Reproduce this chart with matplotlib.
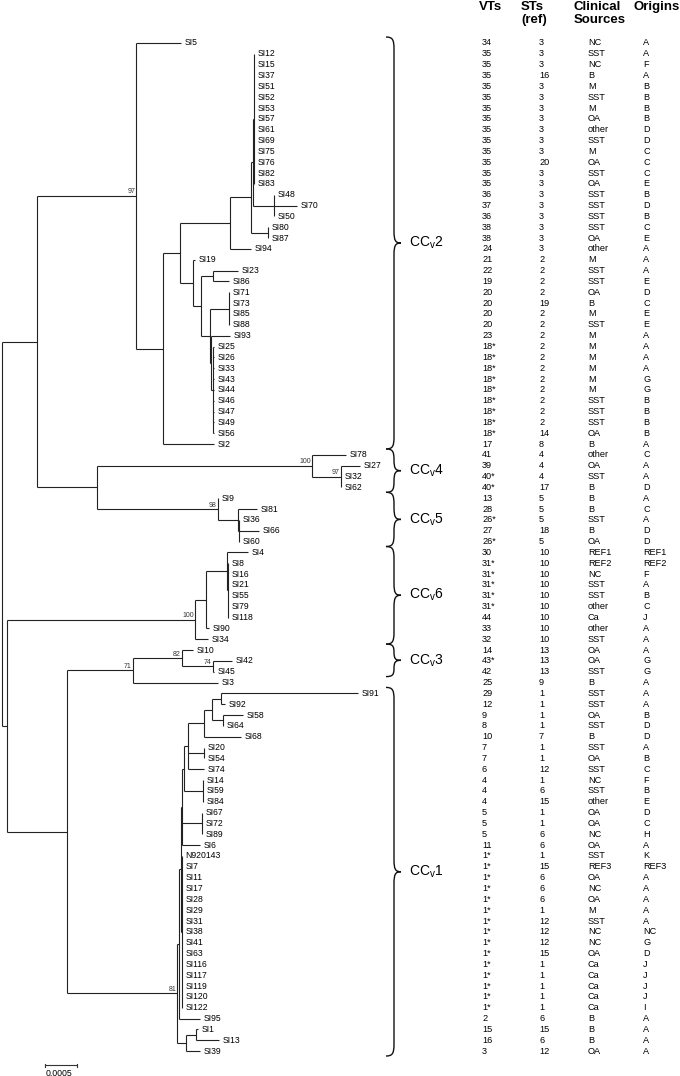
import matplotlib.pyplot as plt
from matplotlib.collections import LineCollection
from matplotlib.path import Path
from matplotlib.patches import PathPatch
from matplotlib.transforms import blended_transform_factory

plt.rcParams['font.family'] = ['Liberation Sans', 'DejaVu Sans']

# tree in newick, branch lengths in 1e-4 substitutions/site, internal labels = bootstrap
TREE = """
(
 (
  (SI5:6.9,
   (
    (
     (
      (
       ((SI12:0,SI15:0,SI37:0,SI51:0,SI52:0,SI53:0,SI57:0,SI61:0,SI69:0,SI75:0,SI76:0,SI82:0,SI83:0):0.2,
        (SI48:0,SI70:3.6,SI50:0):3.3):0.3,
       (SI80:0,SI87:0):2.7
      ):3.3,
      SI94:3.3
     ):7.8,
     (SI19:0.3,
      (
       (SI23:3.9,SI86:2.5):1.9,
       (
        (SI71:0,SI73:0,SI85:0,SI88:0):3.0,
        (SI93:3.0,(SI25:0.2,SI26:0.2,SI33:0.2,SI43:0.2,SI44:0.2,SI46:0.2,SI47:0.2,SI49:0.2,SI56:0.2):0.3):0.2
       ):1.4
      ):1.3
     ):2.0
    ):2.7,
    SI2:8.0
   ):4.1
  )97:15.5,
  (
   (SI78:5.2,(SI27:3.1,SI32:0,SI62:0)97:4.4)100:33.6,
   (SI9:0,(SI81:3.1,(SI36:0,SI66:3.0,SI60:0):0.3):3.1)98:18.8
  ):9.4
 ):5.5,
 (
  (
   ((SI4:3.3,(SI8:0,SI16:0,SI21:0,SI55:0,SI79:0,SI118:0):0.2):3.3,SI90:0.6):1.6,
   SI34:2.0
  )100:29.4,
  (
   ((SI10:1.7,(SI42:3.1,SI45:0.2)74:4.8)82:7.7,SI3:13.3)71:10.2,
   (
    (
     (
      (
       (
        (
         (
          ((SI91:21.4,SI92:0.6):1.4,(SI58:3.1,SI64:0):1.7):1.3,
          SI68:5.8
         ):2.5,
         (SI20:0,SI54:0):2.5,
         SI74:2.5
        ):0.6,
        (SI14:0,SI59:0,SI84:0):3.0
       ):0.2,
       (SI67:0,SI72:0,SI89:0):3.1,
       SI6:2.8
      ):0.3,
      (N920143:0,SI7:0,SI11:0,SI17:0,SI28:0,SI29:0,SI31:0,SI38:0,SI41:0,SI63:0,SI116:0,SI117:0,SI119:0,SI120:0,SI122:0):0.2
     ):0.2,
     SI95:3.3
    ):0.3,
    ((SI1:0.3,SI13:3.6):1.6,SI39:2.2):1.3
   )81:17.2
  ):9.4
 ):0.8
);
"""

vts = ["34", "35", "35", "35", "35", "35", "35", "35", "35", "35", "35", "35", "35", "35",
       "36", "37", "36", "38", "38", "24", "21", "22", "19", "20", "20", "20", "20", "23",
       "18*", "18*", "18*", "18*", "18*", "18*", "18*", "18*", "18*", "17",
       "41", "39", "40*", "40*", "13", "28", "26*", "27", "26*",
       "30", "31*", "31*", "31*", "31*", "31*", "44", "33", "32",
       "14", "43*", "42", "25",
       "29", "12", "9", "8", "10", "7", "7", "6", "4", "4", "4", "5", "5", "5", "11",
       "1*", "1*", "1*", "1*", "1*", "1*", "1*", "1*", "1*", "1*", "1*", "1*", "1*", "1*", "1*",
       "2", "15", "16", "3"]
sts = ["3", "3", "3", "16", "3", "3", "3", "3", "3", "3", "3", "20", "3", "3",
       "3", "3", "3", "3", "3", "3", "2", "2", "2", "2", "19", "2", "2", "2",
       "2", "2", "2", "2", "2", "2", "2", "2", "14", "8",
       "4", "4", "4", "17", "5", "5", "5", "18", "5",
       "10", "10", "10", "10", "10", "10", "10", "10", "10",
       "13", "13", "13", "9",
       "1", "1", "1", "1", "7", "1", "1", "12", "1", "6", "15", "1", "1", "6", "6",
       "1", "15", "6", "6", "6", "1", "12", "12", "12", "15", "1", "1", "1", "1", "1",
       "6", "15", "6", "12"]
sources = ["NC", "SST", "NC", "B", "M", "SST", "M", "OA", "other", "SST", "M", "OA", "SST", "OA",
           "SST", "SST", "SST", "SST", "OA", "other", "M", "SST", "SST", "OA", "B", "M", "SST", "M",
           "M", "M", "M", "M", "M", "SST", "SST", "SST", "OA", "B",
           "other", "OA", "SST", "B", "B", "B", "SST", "B", "OA",
           "REF1", "REF2", "NC", "SST", "SST", "other", "Ca", "other", "SST",
           "OA", "OA", "SST", "B",
           "SST", "SST", "OA", "SST", "B", "SST", "OA", "SST", "NC", "SST", "other", "OA", "OA", "NC", "OA",
           "SST", "REF3", "OA", "NC", "OA", "M", "SST", "NC", "NC", "OA", "Ca", "Ca", "Ca", "Ca", "Ca",
           "B", "B", "B", "OA"]
origins = ["A", "A", "F", "A", "B", "B", "B", "B", "D", "D", "C", "C", "C", "E",
           "B", "D", "B", "C", "E", "A", "A", "A", "E", "D", "C", "E", "E", "A",
           "A", "A", "A", "G", "G", "B", "B", "B", "B", "A",
           "C", "A", "A", "D", "A", "C", "A", "D", "D",
           "REF1", "REF2", "F", "A", "B", "C", "J", "A", "A",
           "A", "G", "G", "A",
           "A", "A", "B", "D", "D", "A", "B", "C", "F", "B", "E", "D", "C", "H", "A",
           "K", "REF3", "A", "A", "A", "A", "A", "NC", "G", "D", "J", "J", "J", "J", "I",
           "A", "A", "A", "A"]

clusters = ["2", "4", "5", "6", "3", "1"]
cluster_first = ["SI5", "SI78", "SI9", "SI4", "SI10", "SI91"]
cluster_last = ["SI2", "SI62", "SI60", "SI34", "SI45", "SI39"]


def parse(s):
    s = "".join(s.split()).rstrip(";")
    pos = 0

    def node():
        nonlocal pos
        kids = []
        if s[pos] == "(":
            pos += 1
            while True:
                kids.append(node())
                if s[pos] == ",":
                    pos += 1
                    continue
                pos += 1
                break
        start = pos
        while pos < len(s) and s[pos] not in ",():":
            pos += 1
        name = s[start:pos]
        length = 0.0
        if pos < len(s) and s[pos] == ":":
            pos += 1
            start = pos
            while pos < len(s) and s[pos] not in ",()":
                pos += 1
            length = float(s[start:pos])
        return {"name": name, "len": length, "kids": kids}

    return node()


root = parse(TREE)
leaves = []


def layout(n, x0):
    n["x"] = x0 + n["len"]
    if not n["kids"]:
        n["y"] = len(leaves) + 1
        leaves.append(n)
    else:
        for k in n["kids"]:
            layout(k, n["x"])
        n["y"] = (n["kids"][0]["y"] + n["kids"][-1]["y"]) / 2


layout(root, 0.0)
row_of = {n["name"]: n["y"] for n in leaves}

segs = []
inner = []


def collect(n):
    for k in n["kids"]:
        segs.append([(n["x"], k["y"]), (k["x"], k["y"])])
        collect(k)
    if n["kids"]:
        segs.append([(n["x"], n["kids"][0]["y"]), (n["x"], n["kids"][-1]["y"])])
        if n["name"]:
            inner.append(n)


collect(root)

W, H = 680, 1076
PX = 0.15625  # tree units per pixel
fig = plt.figure(figsize=(W / 100, H / 100), dpi=100)
ax = fig.add_axes([0, 0, 1, 1])
ax.axis("off")
ax.set_xlim(-2 * PX, (W - 2) * PX)
ax.set_ylim(1 + (H - 43) / 10.84, 1 - 43 / 10.84)

ax.add_collection(LineCollection(segs, colors="#222222", linewidths=0.8))

for n in leaves:
    ax.annotate(n["name"], (n["x"], n["y"]), xytext=(2.6, 0), textcoords="offset points",
                ha="left", va="center", fontsize=6.2)
for n in inner:
    ax.annotate(n["name"], (n["x"], n["y"]), xytext=(-0.6, 0.3), textcoords="offset points",
                ha="right", va="bottom", fontsize=5, color="#333333")

# scale bar
sb_x, sb_y = 6.7, 95.3
ax.plot([sb_x, sb_x + 5], [sb_y, sb_y], color="#333333", lw=0.8)
for xx in (sb_x, sb_x + 5):
    ax.plot([xx, xx], [sb_y - 0.15, sb_y + 0.15], color="#333333", lw=0.8)
ax.text(sb_x + 2.2, sb_y + 0.35, "0.0005", ha="center", va="top", fontsize=6.3)

# braces
tr = blended_transform_factory(ax.transAxes, ax.transData)
xe, xs, xt = 386 / W, 394 / W, 401 / W
for name, a, b in zip(clusters, cluster_first, cluster_last):
    top = row_of[a] - 0.55
    bot = row_of[b] + 0.45
    mid = (top + bot) / 2
    r = min(1.1, (mid - top) / 2)
    verts = [(xe, top), (xe + 0.8 * (xs - xe), top), (xs, top + 0.2 * r), (xs, top + r),
             (xs, mid - r),
             (xs, mid - 0.2 * r), (xs + 0.2 * (xt - xs), mid), (xt, mid),
             (xs + 0.2 * (xt - xs), mid), (xs, mid + 0.2 * r), (xs, mid + r),
             (xs, bot - r),
             (xs, bot - 0.2 * r), (xe + 0.8 * (xs - xe), bot), (xe, bot)]
    codes = [Path.MOVETO, Path.CURVE4, Path.CURVE4, Path.CURVE4, Path.LINETO,
             Path.CURVE4, Path.CURVE4, Path.CURVE4, Path.CURVE4, Path.CURVE4, Path.CURVE4,
             Path.LINETO, Path.CURVE4, Path.CURVE4, Path.CURVE4]
    ax.add_patch(PathPatch(Path(verts, codes), transform=tr, fill=False, lw=1.0, ec="#111111"))
    ax.text(409 / W, mid, r"CC$\mathregular{_v}$" + name, transform=tr, ha="left", va="center",
            fontsize=10)

# table
col_x = [482, 539, 588, 643]
for i, vals in enumerate(zip(vts, sts, sources, origins)):
    for cx, v in zip(col_x, vals):
        ax.text(cx / W, i + 1, v, transform=tr, ha="left", va="center", fontsize=6.6)

headers = [(479, ["VTs"]), (521, ["STs", "(ref)"]), (574, ["Clinical", "Sources"]), (633, ["Origins"])]
for hx, lines in headers:
    for j, t in enumerate(lines):
        fig.text(hx / W, 1 - (10 + 13 * j) / H, t, ha="left", va="baseline",
                 fontsize=9.5, fontweight="bold")

fig.savefig("out.png", dpi=100)
